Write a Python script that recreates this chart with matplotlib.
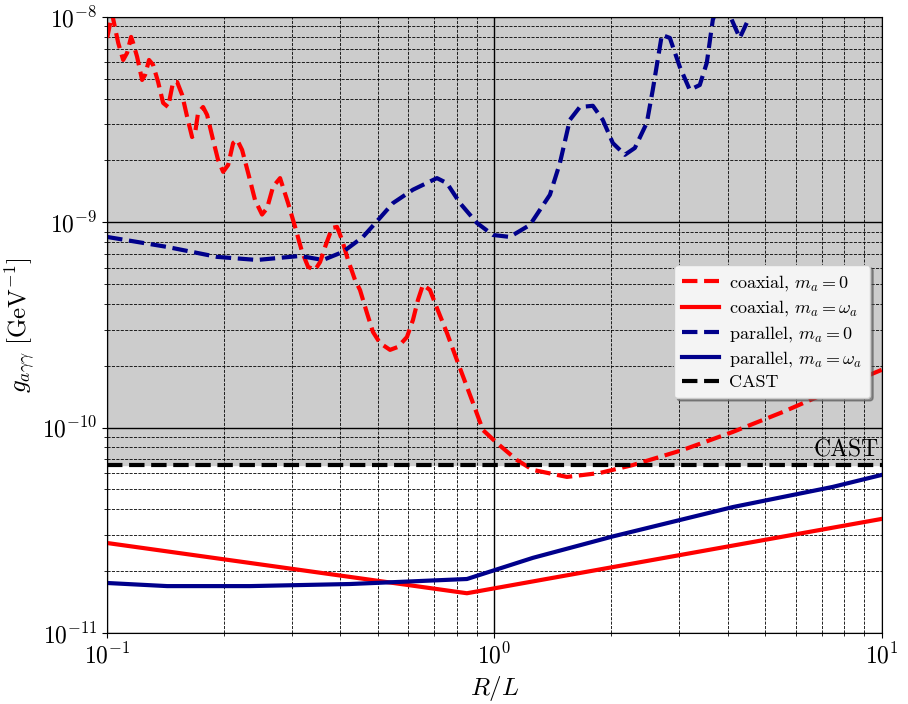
import numpy as np
import matplotlib
matplotlib.use("Agg")
import matplotlib.pyplot as plt

plt.rcParams['mathtext.fontset'] = 'cm'
plt.rcParams['font.family'] = 'serif'
plt.rcParams['font.serif'] = ['cmr10', 'DejaVu Serif']
plt.rcParams['axes.formatter.use_mathtext'] = True

## data (g in units of 1e-10 GeV^-1)
coax_m0_x = [0.100, 0.103, 0.1068, 0.1100, 0.1126, 0.1153, 0.1167, 0.1195, 0.1231, 0.1253,
             0.1283, 0.1314, 0.1354, 0.1395, 0.1437, 0.1480, 0.1516, 0.1562, 0.1609, 0.1657,
             0.1687, 0.1717, 0.1769, 0.1812, 0.1877, 0.1934, 0.1993, 0.2053, 0.2115, 0.2166,
             0.2231, 0.2312, 0.2410, 0.2512, 0.2588, 0.2682, 0.2796, 0.2932, 0.3057, 0.3187,
             0.3303, 0.3443, 0.3547, 0.3654, 0.3808, 0.3923, 0.4042, 0.4188, 0.4365, 0.4497,
             0.4688, 0.4858, 0.5064, 0.5376, 0.5636, 0.5945, 0.6161, 0.6347, 0.6538, 0.6816,
             0.7106, 0.7541, 0.8003, 0.8492, 0.8801, 0.9339, 1.015, 1.143, 1.257, 1.539,
             1.872, 2.278, 3.065, 4.126, 5.553, 7.474, 10.0]
coax_m0_g = [79.0, 103.4, 74.7, 61.7, 66.8, 79.9, 74.7, 63.9, 49.3, 52.2,
             61.7, 58.4, 48.2, 38.1, 36.4, 48.2, 48.2, 41.7, 32.6, 26.0,
             27.2, 34.1, 36.4, 33.3, 25.2, 20.1, 17.6, 19.0, 24.3, 25.2,
             22.5, 17.4, 12.8, 10.9, 11.7, 14.9, 16.4, 12.4, 9.49, 7.17,
             6.06, 5.86, 6.40, 7.58, 9.38, 9.49, 8.20, 6.55, 5.24, 4.68,
             3.61, 2.92, 2.58, 2.39, 2.47, 2.76, 3.34, 4.18, 4.95, 4.68,
             3.82, 2.89, 2.13, 1.58, 1.32, 0.973, 0.841, 0.695, 0.622, 0.575,
             0.601, 0.657, 0.778, 0.952, 1.19, 1.52, 1.91]

coax_mw_x = [0.100, 0.8492, 10.0]
coax_mw_g = [0.274, 0.156, 0.359]

par_m0_x = [0.100, 0.1429, 0.1922, 0.2438, 0.3149, 0.3610, 0.4064, 0.4577, 0.5064, 0.5472,
            0.6161, 0.7106, 0.7541, 0.8147, 0.9012, 0.9911, 1.096, 1.235, 1.391, 1.476,
            1.566, 1.662, 1.796, 1.905, 2.022, 2.172, 2.305, 2.475, 2.564, 2.706,
            2.838, 3.011, 3.195, 3.391, 3.535, 3.664, 3.865, 4.102, 4.301, 4.484]
par_m0_g = [8.48, 7.58, 6.78, 6.55, 6.85, 6.55, 7.17, 8.48, 10.5, 12.4,
            14.4, 16.4, 15.5, 12.4, 9.92, 8.67, 8.48, 9.70, 13.6, 19.4,
            31.5, 36.4, 36.9, 31.5, 24.3, 21.3, 23.0, 30.5, 44.1, 81.7,
            79.0, 57.1, 44.1, 46.6, 59.7, 96.7, 128.0, 96.7, 79.0, 93.5]

par_mw_x = [0.100, 0.1429, 0.2339, 0.4238, 0.8492, 1.257, 2.022, 4.126, 7.474, 10.0]
par_mw_g = [0.175, 0.169, 0.169, 0.173, 0.183, 0.232, 0.295, 0.410, 0.514, 0.588]

cast_g = 0.66  # 6.6e-11

scale = 1e-10

fig = plt.figure(figsize=(9.08, 7.04), dpi=100)
ax = fig.add_axes([0.118, 0.101, 0.853, 0.875])

ax.axhspan(cast_g * scale, 1e-8, color='0.8', zorder=0)

ax.plot(coax_m0_x, np.array(coax_m0_g) * scale, '--', color='red', lw=3, label=r'coaxial, $m_a = 0$')
ax.plot(coax_mw_x, np.array(coax_mw_g) * scale, '-', color='red', lw=3, label=r'coaxial, $m_a = \omega_a$')
ax.plot(par_m0_x, np.array(par_m0_g) * scale, '--', color='darkblue', lw=3, label=r'parallel, $m_a = 0$')
ax.plot(par_mw_x, np.array(par_mw_g) * scale, '-', color='darkblue', lw=3, label=r'parallel, $m_a = \omega_a$')
ax.axhline(cast_g * scale, ls='--', color='black', lw=3, label='CAST')
ax.text(9.8, cast_g * scale * 1.03, 'CAST', ha='right', va='bottom', fontsize=17)

ax.set_xscale('log')
ax.set_yscale('log')
ax.set_xlim(0.1, 10)
ax.set_ylim(1e-11, 1e-8)

ax.grid(True, which='major', color='black', ls='-', lw=1)
ax.grid(True, which='minor', color='black', ls='--', lw=0.6)
ax.tick_params(labelsize=17)

ax.set_xlabel(r'$R/L$', fontsize=18)
ax.set_ylabel(r'$g_{a\gamma\gamma}\ [\mathrm{GeV}^{-1}]$', fontsize=18)

ax.legend(loc='upper right', bbox_to_anchor=(0.997, 0.612), fontsize=13,
          labelspacing=0.3, handlelength=2.0, handletextpad=0.6, borderpad=0.45,
          shadow=True, fancybox=True, framealpha=1.0, facecolor='#f4f4f4')

fig.savefig('out.png', dpi=100)
